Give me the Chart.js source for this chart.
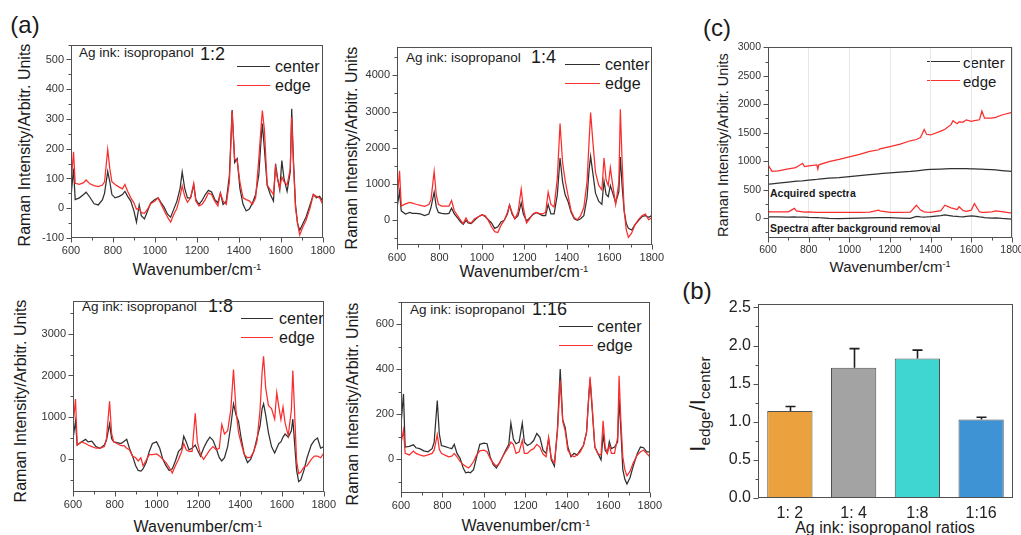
<!DOCTYPE html>
<html><head><meta charset="utf-8">
<script src="https://cdn.jsdelivr.net/npm/chart.js@4.4.1/dist/chart.umd.min.js"></script>
<style>
html,body{margin:0;padding:0;background:#fff;width:1021px;height:535px;overflow:hidden;position:relative;font-family:'Liberation Sans',Arial,sans-serif;color:#1a1a1a}
canvas{position:absolute}
.t{position:absolute;white-space:nowrap;line-height:1;transform:translate(0,-50%)}
.c{transform:translate(-50%,-50%)}
.r{transform:translate(-50%,-50%) rotate(-90deg)}
.ln{position:absolute;height:0}
sup{font-size:60%;vertical-align:0.55em;line-height:0}
sub{font-size:70%;vertical-align:-0.35em;line-height:0}
</style></head><body>
<div class="t c" style="left:25px;top:25px;font-size:24px">(a)</div>
<div class="t c" style="left:717px;top:28px;font-size:24px">(c)</div>
<div class="t c" style="left:697px;top:291px;font-size:24px">(b)</div>

<div class="t r" style="left:25px;top:145px;font-size:16px">Raman Intensity/Arbitr. Units</div>
<div class="t r" style="left:352px;top:148px;font-size:16px">Raman Intensity/Arbitr. Units</div>
<div class="t r" style="left:21px;top:401px;font-size:16px">Raman Intensity/Arbitr. Units</div>
<div class="t r" style="left:353px;top:404px;font-size:16px">Raman Intensity/Arbitr. Units</div>
<div class="t r" style="left:723px;top:145px;font-size:14.5px">Raman Intensity/Arbitr. Units</div>
<div class="t r" style="left:698px;top:404px;font-size:22px">I<sub>edge</sub>/I<sub>center</sub></div>

<div class="t c" style="left:197px;top:270px;font-size:16px">Wavenumber/cm<sup>-1</sup></div>
<div class="t c" style="left:524px;top:272px;font-size:16px">Wavenumber/cm<sup>-1</sup></div>
<div class="t c" style="left:198px;top:527px;font-size:16px">Wavenumber/cm<sup>-1</sup></div>
<div class="t c" style="left:526px;top:526px;font-size:16px">Wavenumber/cm<sup>-1</sup></div>
<div class="t c" style="left:890px;top:266px;font-size:15px">Wavenumber/cm<sup>-1</sup></div>
<div class="t c" style="left:885px;top:528px;font-size:16px">Ag ink: isopropanol ratios</div>

<div class="t" style="left:79px;top:53px;font-size:13.5px">Ag ink: isopropanol</div>
<div class="t" style="left:200px;top:54px;font-size:18px">1:2</div>
<div class="t" style="left:406px;top:58px;font-size:13.5px">Ag ink: isopropanol</div>
<div class="t" style="left:531px;top:57px;font-size:18px">1:4</div>
<div class="t" style="left:82px;top:307px;font-size:13.5px">Ag ink: isopropanol</div>
<div class="t" style="left:208px;top:306px;font-size:18px">1:8</div>
<div class="t" style="left:410px;top:310px;font-size:13.5px">Ag ink: isopropanol</div>
<div class="t" style="left:532px;top:309px;font-size:18px">1:16</div>

<div class="t" style="left:770px;top:193px;font-size:10.5px;font-weight:bold">Acquired spectra</div>
<div class="t" style="left:770px;top:228px;font-size:10.5px;font-weight:bold">Spectra after background removal</div>

<div class="ln" style="left:237px;top:66px;width:33px;border-top:1.6px solid #303030"></div>
<div class="t" style="left:275px;top:67px;font-size:16px">center</div>
<div class="ln" style="left:237px;top:85px;width:33px;border-top:1.6px solid #fa3030"></div>
<div class="t" style="left:275px;top:86px;font-size:16px">edge</div>

<div class="ln" style="left:565px;top:64px;width:35px;border-top:1.6px solid #303030"></div>
<div class="t" style="left:605px;top:65px;font-size:16px">center</div>
<div class="ln" style="left:565px;top:83px;width:35px;border-top:1.6px solid #fa3030"></div>
<div class="t" style="left:605px;top:84px;font-size:16px">edge</div>

<div class="ln" style="left:241px;top:318px;width:32px;border-top:1.6px solid #303030"></div>
<div class="t" style="left:279px;top:319px;font-size:16px">center</div>
<div class="ln" style="left:241px;top:337px;width:32px;border-top:1.6px solid #fa3030"></div>
<div class="t" style="left:279px;top:338px;font-size:16px">edge</div>

<div class="ln" style="left:559px;top:326px;width:34px;border-top:1.6px solid #303030"></div>
<div class="t" style="left:597px;top:327px;font-size:16px">center</div>
<div class="ln" style="left:559px;top:345px;width:34px;border-top:1.6px solid #fa3030"></div>
<div class="t" style="left:597px;top:346px;font-size:16px">edge</div>

<div class="ln" style="left:927px;top:61px;width:33px;border-top:1.6px solid #303030"></div>
<div class="t" style="left:963px;top:62px;font-size:15px">center</div>
<div class="ln" style="left:927px;top:80px;width:33px;border-top:1.6px solid #fa3030"></div>
<div class="t" style="left:963px;top:81px;font-size:15px">edge</div>

<script>
// ---------- DATA ----------
const wavenumbers = [
 600,612,620,640,660,672,690,710,730,750,
 760,775,785,795,810,830,845,857,870,885,
 900,912,925,935,950,965,980,1000,1015,1030,
 1045,1060,1075,1090,1105,1120,1130,1142,1155,1170,
 1185,1195,1210,1225,1240,1255,1270,1285,1300,1312,
 1325,1340,1355,1368,1380,1392,1405,1420,1435,1450,
 1465,1480,1495,1505,1512,1522,1535,1550,1565,1575,
 1585,1595,1605,1615,1630,1645,1652,1660,1670,1680,
 1690,1705,1720,1740,1755,1770,1785,1800];

const wavenumberTicks = [600, 800, 1000, 1200, 1400, 1600, 1800];
const ticks_1_2 = [-100, 0, 100, 200, 300, 400, 500];
const ticks_1_4 = [0, 1000, 2000, 3000, 4000];
const ticks_1_8 = [0, 1000, 2000, 3000];
const ticks_1_16 = [0, 200, 400, 600];
const ticks_C = [0, 500, 1000, 1500, 2000, 2500, 3000];
const ticks_ratio = [0, 0.5, 1.0, 1.5, 2.0, 2.5];

const center_1_2 = [
 40,133,29,35,46,54,37,15,11,29,
 51,124,89,46,35,40,46,57,40,24,
 -9,-47,11,-25,-36,-9,18,29,35,18,
 2,-20,-30,-3,24,67,122,67,35,35,
 78,29,13,26,46,60,55,30,18,51,
 13,24,111,330,154,167,67,13,-9,-3,
 18,46,111,220,285,198,78,46,24,149,
 100,62,160,100,57,122,334,165,13,-52,
 -74,-52,-30,13,46,35,40,24];
const edge_1_2 = [
 80,190,84,80,86,95,82,76,73,78,
 89,198,133,89,80,71,65,80,57,35,
 18,-3,0,-15,-17,-3,15,24,35,13,
 -9,-30,-47,-20,0,40,75,40,20,35,
 84,24,8,13,29,51,46,24,8,51,
 24,13,89,326,165,160,89,35,29,25,
 13,35,165,263,328,263,78,62,46,138,
 95,67,105,89,78,133,306,154,2,-52,
 -90,-63,-41,2,46,40,35,13];

const center_1_4 = [
 337,780,248,160,204,177,177,160,115,160,
 337,763,355,204,177,160,177,319,160,53,
 -62,-124,-18,-90,-106,-18,70,142,90,0,
 -90,-240,-195,-62,-18,160,408,160,27,115,
 470,160,-35,53,142,204,160,115,115,425,
 160,160,690,1712,1047,690,515,204,27,-18,
 27,115,603,1400,1756,1313,736,515,425,1073,
 700,640,950,760,470,780,1738,958,248,-106,
 -240,-284,-150,0,90,115,70,115];
const edge_1_4 = [
 514,1357,380,440,480,460,430,400,370,420,
 550,1340,690,425,381,381,380,532,250,115,
 -18,-106,53,-60,-90,27,70,133,115,-18,
 -195,-330,-355,-150,-18,204,400,204,27,204,
 850,337,-90,27,160,204,177,160,204,763,
 425,355,1135,2670,1580,1090,690,250,53,0,
 115,337,1047,2200,2970,2200,1313,958,825,1712,
 1100,950,1446,1000,425,1047,3060,1668,248,-284,
 -488,-372,-150,27,115,160,0,53];

const center_1_8 = [
 480,900,328,404,465,404,420,290,252,328,
 442,839,480,404,389,366,420,465,252,61,
 -168,-282,-297,-244,-92,175,366,404,252,-15,
 -168,-282,-244,-53,175,252,542,404,214,252,
 328,214,61,252,404,519,442,252,23,-53,
 23,290,786,1320,1053,900,480,99,-92,-15,
 175,480,786,1205,1320,1053,633,290,137,252,
 366,404,519,595,519,671,954,404,-282,-549,
 -511,-282,23,328,442,496,252,290];
const edge_1_8 = [
 786,1434,328,404,366,328,290,252,252,290,
 480,1381,595,404,366,313,313,252,214,61,
 23,-53,23,-168,-38,99,99,114,61,-15,
 -92,-206,-343,-168,-15,175,366,214,175,175,
 1091,404,99,-15,99,214,290,214,252,824,
 595,671,1167,2144,1167,633,366,99,23,38,
 175,404,1167,2083,2464,1701,1282,1205,950,1587,
 1244,938,1244,862,557,1167,2121,1167,-53,-359,
 -320,-206,-168,-15,61,61,23,137];

const center_1_16 = [
 154,290,54,57,64,51,47,37,33,47,
 76,261,111,61,57,51,47,66,26,4,
 -39,-60,-57,-60,-46,11,66,71,69,11,
 -24,-39,-17,11,40,66,161,90,69,76,
 160,76,61,69,83,114,97,40,26,90,
 -3,-31,140,400,176,140,54,11,26,19,
 40,61,119,269,354,226,54,26,-3,109,
 40,26,79,47,54,76,269,140,-46,-89,
 -110,-81,-31,26,54,51,33,33];
const edge_1_16 = [
 69,129,26,19,36,26,19,14,19,26,
 40,109,43,26,19,11,14,26,11,-10,
 -24,-31,-39,-31,-10,19,37,40,33,4,
 -17,-31,-17,11,33,54,76,66,26,33,
 83,26,26,40,47,66,54,23,11,97,
 4,-17,126,351,169,126,40,19,11,19,
 33,61,119,269,366,240,54,23,19,171,
 54,26,61,26,26,97,371,183,11,-46,
 -74,-53,-17,19,33,40,26,11];

// panel (c)
const wavenumbersC = [
 600,605,620,650,700,730,740,770,780,800,
 840,845,850,900,950,1000,1050,1100,1145,1150,
 1200,1250,1300,1330,1350,1368,1380,1400,1450,1470,
 1500,1510,1530,1540,1560,1575,1600,1615,1640,1652,
 1665,1700,1720,1750,1800];
const edgeAcquired = [
 849,905,820,830,866,880,894,962,905,917,
 934,860,935,990,1030,1075,1120,1171,1200,1215,
 1256,1300,1358,1380,1415,1556,1472,1460,1528,1560,
 1641,1709,1658,1690,1686,1726,1698,1710,1726,1879,
 1754,1754,1770,1811,1856];
const centerAcquired = [
 594,596,602,615,632,643,647,655,660,668,
 680,682,684,700,712,728,745,762,778,780,
 795,808,820,830,838,845,850,855,862,866,
 870,870,870,869,868,867,866,865,862,860,
 857,850,845,835,820];
const edgeBgRemoved = [
 110,115,110,108,110,170,125,110,105,108,
 100,100,102,98,100,98,100,105,140,125,
 100,98,105,226,140,110,105,100,130,226,
 180,170,150,198,130,120,140,255,110,100,
 100,110,125,115,85];
const centerBgRemoved = [
 20,22,22,20,18,20,18,15,15,12,
 10,10,8,-5,-11,-5,0,5,10,10,
 8,0,-5,28,20,18,20,25,45,57,
 40,35,30,25,20,30,40,35,20,15,
 10,0,5,-5,-17];

// panel (b)
const ratioLabels = ['1: 2','1: 4','1:8','1:16'];
const ratioValues = [1.14, 1.71, 1.83, 1.03];
const ratioErrors = [0.06, 0.25, 0.11, 0.03];
const barColors = ['#eba13d','#a3a3a3','#3fd6d2','#3d93d3'];

// ---------- DRAWING ----------
const FONT = "'Liberation Sans', Arial, sans-serif";
Chart.defaults.font.family = FONT;

const frameTicks = {
  id: 'frameTicks',
  afterDraw(chart, args, o) {
    if (!o || !o.on) return;
    const {ctx, chartArea: a} = chart;
    ctx.save();
    ctx.strokeStyle = '#505050';
    ctx.lineWidth = 1;
    const L = Math.round(a.left) + 0.5, T = Math.round(a.top) + 0.5;
    const R = Math.round(a.right) - 0.5, B = Math.round(a.bottom) - 0.5;
    ctx.strokeRect(L, T, R - L, B - T);
    ctx.beginPath();
    const ys = chart.scales.y;
    if (o.yMinor) {
      for (let k = Math.ceil(ys.min / o.yMinor - 1e-9); k * o.yMinor <= ys.max + 1e-9; k++) {
        const v = k * o.yMinor;
        const p = Math.round(ys.getPixelForValue(v)) + 0.5;
        const r = v / o.yMajor;
        const major = Math.abs(r - Math.round(r)) < 1e-6;
        ctx.moveTo(L, p); ctx.lineTo(L - (major ? 5 : 3), p);
      }
    }
    const xs = chart.scales.x;
    if (o.xMinor) {
      for (let k = Math.ceil(xs.min / o.xMinor - 1e-9); k * o.xMinor <= xs.max + 1e-9; k++) {
        const v = k * o.xMinor;
        const p = Math.round(xs.getPixelForValue(v)) + 0.5;
        const r = v / o.xMajor;
        const major = Math.abs(r - Math.round(r)) < 1e-6;
        ctx.moveTo(p, B); ctx.lineTo(p, B + (major ? 5 : 3));
      }
    }
    ctx.stroke();
    ctx.restore();
  }
};

const errorBars = {
  id: 'errorBars',
  afterDatasetsDraw(chart, args, o) {
    if (!o || !o.errors) return;
    const {ctx} = chart;
    const ys = chart.scales.y;
    const meta = chart.getDatasetMeta(0);
    ctx.save();
    ctx.strokeStyle = '#1e1e1e';
    ctx.lineWidth = 1.6;
    meta.data.forEach((bar, i) => {
      const v = chart.data.datasets[0].data[i];
      const yTop = ys.getPixelForValue(v + o.errors[i]);
      const x = Math.round(bar.x) + 0.5;
      ctx.beginPath();
      ctx.moveTo(x, bar.y);
      ctx.lineTo(x, yTop);
      ctx.moveTo(x - 5, yTop);
      ctx.lineTo(x + 5, yTop);
      ctx.stroke();
    });
    ctx.restore();
  }
};
Chart.register(frameTicks, errorBars);

function makeCanvas(b) {
  const c = document.createElement('canvas');
  c.width = b.yw + b.w + b.pr;
  c.height = b.pt + b.h + b.xh;
  c.style.left = (b.l - b.yw) + 'px';
  c.style.top = (b.t - b.pt) + 'px';
  document.body.appendChild(c);
  return c;
}
function pts(xs, ys) { return xs.map((x, i) => ({x: x, y: ys[i]})); }
const setTicks = vals => axis => { axis.ticks = vals.map(v => ({value: v})); };

function spectrum(b, xs, series, yr, extra) {
  extra = extra || {};
  const cv = makeCanvas(b);
  const datasets = series.map(s => ({
    label: s.label, data: pts(xs, s.values), borderColor: s.color,
    borderWidth: 1.25, pointRadius: 0, tension: 0, order: s.order, fill: false
  }));
  return new Chart(cv, {
    type: 'line',
    data: {datasets},
    options: {
      responsive: false, animation: false, devicePixelRatio: 1,
      layout: {autoPadding: false, padding: {top: b.pt, right: b.pr, left: 0, bottom: 0}},
      plugins: {legend: {display: false}, tooltip: {enabled: false},
        frameTicks: {on: true, yMajor: yr.step, yMinor: yr.step / 2, xMajor: 200, xMinor: 100}},
      scales: {
        x: {type: 'linear', min: 600, max: 1800,
          afterFit: s => { s.height = b.xh; },
          afterBuildTicks: setTicks(wavenumberTicks),
          ticks: {autoSkip: false, maxRotation: 0, font: {size: extra.fs || 11}, color: '#333', padding: 6,
            callback: v => String(v)},
          grid: {display: !!extra.gridX, drawTicks: false, color: '#e6e6e6'},
          border: {display: false}},
        y: {min: yr.min, max: yr.max,
          afterFit: s => { s.width = b.yw; },
          afterBuildTicks: setTicks(yr.ticks),
          ticks: {autoSkip: false, font: {size: extra.fs || 11}, color: '#333', padding: 7,
            callback: v => String(v)},
          grid: {display: false, drawTicks: false},
          border: {display: false}}
      }
    }
  });
}

const BLACK = '#303030', RED = 'rgb(250,45,45)';
const std = {yw: 46, pt: 6, pr: 18, xh: 28};

spectrum(Object.assign({l: 71, t: 37, w: 252, h: 201}, std), wavenumbers,
  [{label: 'center', values: center_1_2, color: BLACK, order: 1},
   {label: 'edge', values: edge_1_2, color: RED, order: 0}],
  {min: -100, max: 550, step: 100, ticks: ticks_1_2});

spectrum(Object.assign({l: 397, t: 39, w: 255, h: 206}, std), wavenumbers,
  [{label: 'center', values: center_1_4, color: BLACK, order: 1},
   {label: 'edge', values: edge_1_4, color: RED, order: 0}],
  {min: -700, max: 4800, step: 1000, ticks: ticks_1_4});

spectrum(Object.assign({l: 73, t: 293, w: 251, h: 199}, std), wavenumbers,
  [{label: 'center', values: center_1_8, color: BLACK, order: 1},
   {label: 'edge', values: edge_1_8, color: RED, order: 0}],
  {min: -800, max: 3800, step: 1000, ticks: ticks_1_8});

spectrum(Object.assign({l: 401, t: 294, w: 249, h: 199}, std), wavenumbers,
  [{label: 'center', values: center_1_16, color: BLACK, order: 1},
   {label: 'edge', values: edge_1_16, color: RED, order: 0}],
  {min: -150, max: 700, step: 200, ticks: ticks_1_16});

spectrum(Object.assign({l: 768, t: 40, w: 244, h: 198}, std), wavenumbersC,
  [{label: 'center', values: centerAcquired, color: BLACK, order: 1},
   {label: 'edge', values: edgeAcquired, color: RED, order: 0},
   {label: 'center bg', values: centerBgRemoved, color: BLACK, order: 1},
   {label: 'edge bg', values: edgeBgRemoved, color: RED, order: 0}],
  {min: -350, max: 3000, step: 500, ticks: ticks_C}, {gridX: true, fs: 10.5});

// bar chart (b)
(function () {
  const b = {l: 758, t: 293, w: 255, h: 205, yw: 46, pt: 6, pr: 10, xh: 30};
  const cv = makeCanvas(b);
  new Chart(cv, {
    type: 'bar',
    data: {labels: ratioLabels, datasets: [{
      data: ratioValues, backgroundColor: barColors, borderColor: '#505050', borderWidth: 1,
      barPercentage: 0.71, categoryPercentage: 1}]},
    options: {
      responsive: false, animation: false, devicePixelRatio: 1,
      layout: {autoPadding: false, padding: {top: b.pt, right: b.pr, left: 0, bottom: 0}},
      plugins: {legend: {display: false}, tooltip: {enabled: false},
        frameTicks: {on: true, yMajor: 0.5, yMinor: 0.25},
        errorBars: {errors: ratioErrors}},
      scales: {
        x: {afterFit: s => { s.height = b.xh; },
          ticks: {font: {size: 16}, color: '#222', padding: 6},
          grid: {display: false, drawTicks: false}, border: {display: false}},
        y: {min: 0, max: 2.55, afterFit: s => { s.width = b.yw; },
          afterBuildTicks: setTicks(ticks_ratio),
          ticks: {autoSkip: false, font: {size: 16}, color: '#222', padding: 7,
            callback: v => v.toFixed(1)},
          grid: {display: false, drawTicks: false}, border: {display: false}}
      }
    }
  });
})();
</script>
</body></html>
